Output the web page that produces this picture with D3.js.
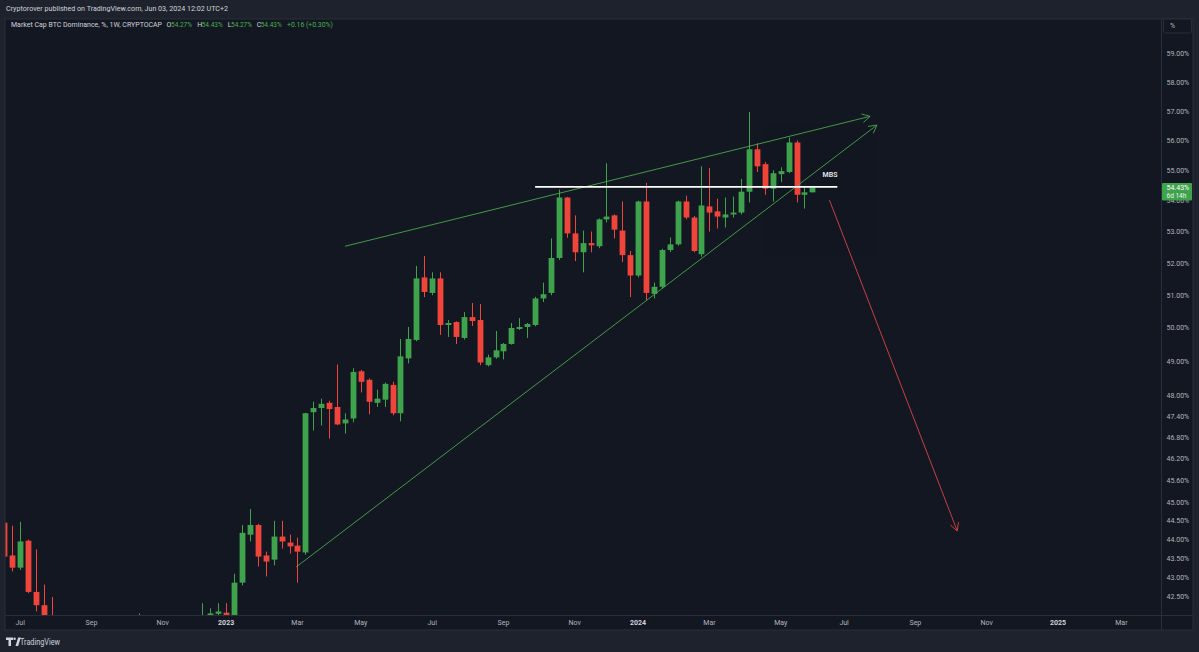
<!DOCTYPE html>
<html><head><meta charset="utf-8">
<script src="https://cdn.jsdelivr.net/npm/d3@7"></script>
<style>
html,body{margin:0;padding:0;background:#1e222d;overflow:hidden}
svg{display:block}
text{font-family:Roboto,"Liberation Sans",sans-serif}
</style>
</head><body>
<svg id="c" width="1199" height="652"></svg>
<script>
// ---------- DATA ----------
const firstWeek = "2022-06-20";           // weekly candles, Monday opens
const openVals = [44.45,43.58,43.26,43.97,42.63,42.29,41.7,40.9,40.6,40.1,39.6,40.4,40.2,40.5,41.0,40.9,41.2,41.0,41.5,40.7,40.9,41.3,41.4,41.2,41.5,41.6,41.8,42.07,42.1,42.03,42.87,44.13,44.39,43.58,43.47,44.08,43.92,43.84,43.66,47.52,47.64,47.79,47.67,47.2,47.34,48.71,48.46,47.79,47.88,48.31,47.49,49.09,49.64,51.55,51.07,51.52,50.09,50.18,49.7,50.33,50.24,48.89,49.12,49.3,49.52,49.97,50.03,50.09,50.9,51.07,52.16,54.1,52.94,52.34,52.63,52.53,53.39,53.52,53.03,52.25,51.61,53.97,51.04,51.26,52.41,52.59,53.97,53.45,52.28,53.81,53.65,53.45,53.55,53.61,54.29,55.7,55.2,54.39,54.87,54.94,55.93,54.19,54.27];
const highVals = [44.6,44.37,44.47,44.0,43.74,42.82,42.5,41.6,41.0,40.5,40.6,40.9,40.8,41.3,41.5,41.4,41.6,42.08,41.8,41.2,41.6,41.7,41.8,41.7,41.9,42.34,42.21,42.34,42.34,43.1,44.39,44.82,44.42,43.68,44.5,44.5,44.13,44.05,47.5,47.82,47.91,47.85,48.91,47.49,48.8,48.75,48.5,48.17,48.38,48.4,49.67,50.03,51.91,52.22,51.71,51.71,50.24,50.2,50.48,50.76,50.73,49.2,49.91,49.55,50.15,50.3,50.15,50.95,51.39,52.78,54.36,54.12,53.52,53.03,53.0,53.42,55.23,53.55,53.97,52.38,54.0,54.58,51.39,52.45,52.81,54.0,54.16,53.5,55.13,55.07,54.06,54.1,54.13,54.71,56.97,55.9,55.27,55.0,55.1,56.1,56.0,54.48,54.43];
const lowVals  = [43.4,43.16,43.2,42.6,42.13,41.5,40.6,40.3,39.8,39.4,39.3,39.9,39.8,40.2,40.6,40.5,40.8,40.8,40.4,40.2,40.0,40.9,41.0,40.9,41.1,41.3,41.7,42.0,41.95,41.9,42.8,43.95,43.29,43.03,43.32,43.76,43.63,42.87,43.6,47.0,47.14,46.77,47.15,46.91,47.23,48.09,47.46,47.67,47.67,47.43,47.26,48.94,49.6,50.94,51.0,49.79,49.73,49.52,49.65,50.06,48.89,48.85,49.08,49.06,49.5,49.94,49.7,50.05,50.79,51.0,52.1,52.8,52.06,51.71,52.34,52.47,53.29,52.78,52.03,50.94,51.55,50.84,50.9,51.2,52.35,52.55,53.39,52.34,52.2,53.0,53.1,53.13,53.45,53.55,53.94,54.94,54.19,53.97,54.61,54.9,53.94,53.74,54.27];
const closeVals = [43.55,43.26,43.95,42.63,42.29,41.7,40.9,40.6,40.1,39.6,40.4,40.2,40.5,41.0,40.9,41.2,41.0,41.5,40.7,40.9,41.3,41.4,41.2,41.5,41.6,41.8,42.08,42.13,42.03,42.87,44.18,44.39,43.55,43.42,44.08,43.95,43.82,43.68,47.49,47.64,47.76,47.61,47.17,47.31,48.69,48.4,47.82,47.91,48.34,47.49,49.15,49.67,51.52,51.1,51.52,50.09,50.15,49.73,50.33,50.21,48.97,49.12,49.33,49.52,50.0,50.03,50.12,50.9,51.03,52.16,54.1,52.94,52.34,52.63,52.56,53.39,53.48,53.06,52.25,51.61,53.97,51.07,51.26,52.41,52.59,53.97,53.45,52.38,53.84,53.61,53.48,53.55,53.61,54.29,55.7,55.13,54.39,54.9,54.97,55.93,54.19,54.27,54.43];

const priceTicks = [59,58,57,56,55,54,53,52,51,50,49,48,47.4,46.8,46.2,45.6,45,44.5,44,43.5,43,42.5];
const timeTickDates = ["2022-07-04","2022-09-05","2022-11-07","2023-01-02","2023-03-06","2023-05-01","2023-07-03","2023-09-04","2023-11-06","2024-01-01","2024-03-04","2024-05-06","2024-07-01","2024-09-02","2024-11-04","2025-01-06","2025-03-03"];
const timeTickLabels = ["Jul","Sep","Nov","2023","Mar","May","Jul","Sep","Nov","2024","Mar","May","Jul","Sep","Nov","2025","Mar"];

// drawings (date, price)
const trendUpper = [["2023-04-17",52.53],["2024-07-24",56.82]];
const trendLower = [["2023-03-05",43.28],["2024-07-30",56.52]];
const mbsLine    = [["2023-10-02",54.45],["2024-06-25",54.45]];
const mbsLabel   = ["2024-06-12",54.84,"MBS"];
const dropArrow  = [["2024-06-18",54.02],["2024-10-09",44.23]];

const lastPrice = 54.43, countdown = "6d 14h";
const title = "Cryptorover published on TradingView.com, Jun 03, 2024 12:02 UTC+2";
const symbolLine = "Market Cap BTC Dominance, %, 1W, CRYPTOCAP";
const ohlcLegend = [["O","54.27%"],["H","54.43%"],["L","54.27%"],["C","54.43%"]];
const changeText = "+0.16 (+0.30%)";

// ---------- LAYOUT ----------
const W=1199,H=652;
const pane={l:5,t:19,r:1193,b:630};
const axisX=1161, axisY=615;
const UP="#3fa34d", DN="#f0453a";
const svg=d3.select("#c");

const x=d3.scaleUtc().domain([new Date("2022-06-20"),new Date("2025-03-03")]).range([4.3,1121.4]);
const y=d3.scaleLog().domain([42.5,59]).range([597,54]);

svg.append("rect").attr("width",W).attr("height",H).attr("fill","#1e222d");
svg.append("rect").attr("x",pane.l).attr("y",pane.t).attr("width",pane.r-pane.l).attr("height",pane.b-pane.t)
  .attr("fill","#131722").attr("stroke","#2a2e39").attr("stroke-width",1);

const defs=svg.append("defs");
defs.append("clipPath").attr("id","clip").append("rect")
  .attr("x",5.5).attr("y",pane.t+0.5).attr("width",axisX-5.5).attr("height",axisY-pane.t-0.5);

const plot=svg.append("g").attr("clip-path","url(#clip)");

// candles
const t0=new Date(firstWeek);
const candles=openVals.map((o,i)=>({d:d3.utcDay.offset(t0,7*i),o,h:highVals[i],l:lowVals[i],c:closeVals[i]}));
const bw=5.8;
const cg=plot.append("g");
cg.selectAll("line.w").data(candles).join("line")
  .attr("x1",d=>Math.round(x(d.d))+0.5).attr("x2",d=>Math.round(x(d.d))+0.5)
  .attr("y1",d=>y(d.h)).attr("y2",d=>y(d.l))
  .attr("stroke",d=>d.c>=d.o?UP:DN).attr("stroke-width",1);
cg.selectAll("rect.b").data(candles).join("rect")
  .attr("x",d=>Math.round(x(d.d))+0.5-bw/2).attr("width",bw)
  .attr("y",d=>y(Math.max(d.o,d.c)))
  .attr("height",d=>Math.max(1,y(Math.min(d.o,d.c))-y(Math.max(d.o,d.c))))
  .attr("fill",d=>d.c>=d.o?UP:DN);

// drawings
function pt(p){return [x(new Date(p[0])),y(p[1])];}
function arrowLine(seg,color,width,op,arrow){
  const a=pt(seg[0]),b=pt(seg[1]);
  const g=plot.append("g").attr("stroke",color).attr("stroke-width",width).attr("opacity",op).attr("fill","none");
  g.append("line").attr("x1",a[0]).attr("y1",a[1]).attr("x2",b[0]).attr("y2",b[1]);
  if(arrow){
    const ang=Math.atan2(b[1]-a[1],b[0]-a[0]), L=9, sp=0.5;
    [ang+Math.PI-sp,ang+Math.PI+sp].forEach(t=>{
      g.append("line").attr("x1",b[0]).attr("y1",b[1]).attr("x2",b[0]+L*Math.cos(t)).attr("y2",b[1]+L*Math.sin(t));
    });
  }
}
arrowLine(trendUpper,"#4caf50",1,0.85,true);
arrowLine(trendLower,"#4caf50",1,0.85,true);
arrowLine(dropArrow,"#e8464a",1,0.85,true);
arrowLine(mbsLine,"#ffffff",1.6,1,false);
plot.append("text").attr("x",x(new Date(mbsLabel[0]))).attr("y",y(mbsLabel[1])).attr("dy","0.35em")
  .attr("fill","#e6e8ee").attr("font-size",7).attr("font-weight",600).text(mbsLabel[2]);

// separators
svg.append("line").attr("x1",axisX+0.5).attr("x2",axisX+0.5).attr("y1",pane.t).attr("y2",pane.b).attr("stroke","#2a2e39");
svg.append("line").attr("x1",pane.l).attr("x2",pane.r).attr("y1",axisY+0.5).attr("y2",axisY+0.5).attr("stroke","#2a2e39");

// price axis
const ya=svg.append("g");
ya.selectAll("text").data(priceTicks).join("text")
  .attr("x",1166.5).attr("y",d=>y(d)).attr("dy","0.35em")
  .attr("fill","#b2b5be").attr("font-size",7).text(d=>d.toFixed(2)+"%");

// last price label
const ly=y(lastPrice);
svg.append("rect").attr("x",1162).attr("y",ly-4.5).attr("width",30).attr("height",17.5).attr("rx",1).attr("fill",UP);
svg.append("text").attr("x",1166.5).attr("y",ly).attr("dy","0.35em").attr("fill","#ffffff").attr("font-size",7).text(lastPrice.toFixed(2)+"%");
svg.append("text").attr("x",1166.5).attr("y",ly+8.5).attr("dy","0.35em").attr("fill","#e8f5e9").attr("font-size",6.5).text(countdown);

// % button
svg.append("rect").attr("x",1163.5).attr("y",19).attr("width",28).attr("height",14).attr("rx",2)
  .attr("fill","#131722").attr("stroke","#2a2e39");
svg.append("text").attr("x",1170).attr("y",26).attr("dy","0.35em").attr("fill","#b2b5be").attr("font-size",7).text("%");

// time axis
const xa=svg.append("g");
xa.selectAll("text").data(timeTickDates).join("text")
  .attr("x",d=>x(new Date(d))).attr("y",623).attr("dy","0.35em").attr("text-anchor","middle")
  .attr("font-size",7)
  .attr("fill",(d,i)=>/^\d{4}$/.test(timeTickLabels[i])?"#d1d4dc":"#b2b5be")
  .attr("font-weight",(d,i)=>/^\d{4}$/.test(timeTickLabels[i])?700:400)
  .text((d,i)=>timeTickLabels[i]);

// header
svg.append("text").attr("x",6).attr("y",8.5).attr("dy","0.35em").attr("fill","#d1d4dc").attr("font-size",7.6)
  .attr("textLength",222).attr("lengthAdjust","spacingAndGlyphs").text(title);
svg.append("text").attr("x",11).attr("y",25).attr("dy","0.35em").attr("fill","#d1d4dc").attr("font-size",7)
  .attr("textLength",151).attr("lengthAdjust","spacingAndGlyphs").text(symbolLine);
const lx=[[166.5,171],[197.3,201.7],[227.7,231],[256.7,260.7]];
ohlcLegend.forEach((p,i)=>{
  svg.append("text").attr("x",lx[i][0]).attr("y",25).attr("dy","0.35em").attr("fill","#d1d4dc").attr("font-size",7).text(p[0]);
  svg.append("text").attr("x",lx[i][1]).attr("y",25).attr("dy","0.35em").attr("fill","#4caf50").attr("font-size",7)
    .attr("textLength",21).attr("lengthAdjust","spacingAndGlyphs").text(p[1]);
});
svg.append("text").attr("x",287).attr("y",25).attr("dy","0.35em").attr("fill","#4caf50").attr("font-size",7)
  .attr("textLength",46).attr("lengthAdjust","spacingAndGlyphs").text(changeText);

// footer logo + text
const lg=svg.append("g").attr("fill","#d1d4dc");
lg.append("path").attr("d","M6,637.5 H13 V640 H11 V646 H8.5 V640 H6 Z");
lg.append("circle").attr("cx",14.6).attr("cy",638.7).attr("r",1.2);
lg.append("path").attr("d","M15.5,646 L18.2,637.5 H20.8 L18.2,646 Z");
svg.append("text").attr("x",20).attr("y",642).attr("dy","0.35em").attr("fill","#d1d4dc").attr("font-size",8.5)
  .attr("textLength",40).attr("lengthAdjust","spacingAndGlyphs").text("TradingView");
</script>
</body></html>
